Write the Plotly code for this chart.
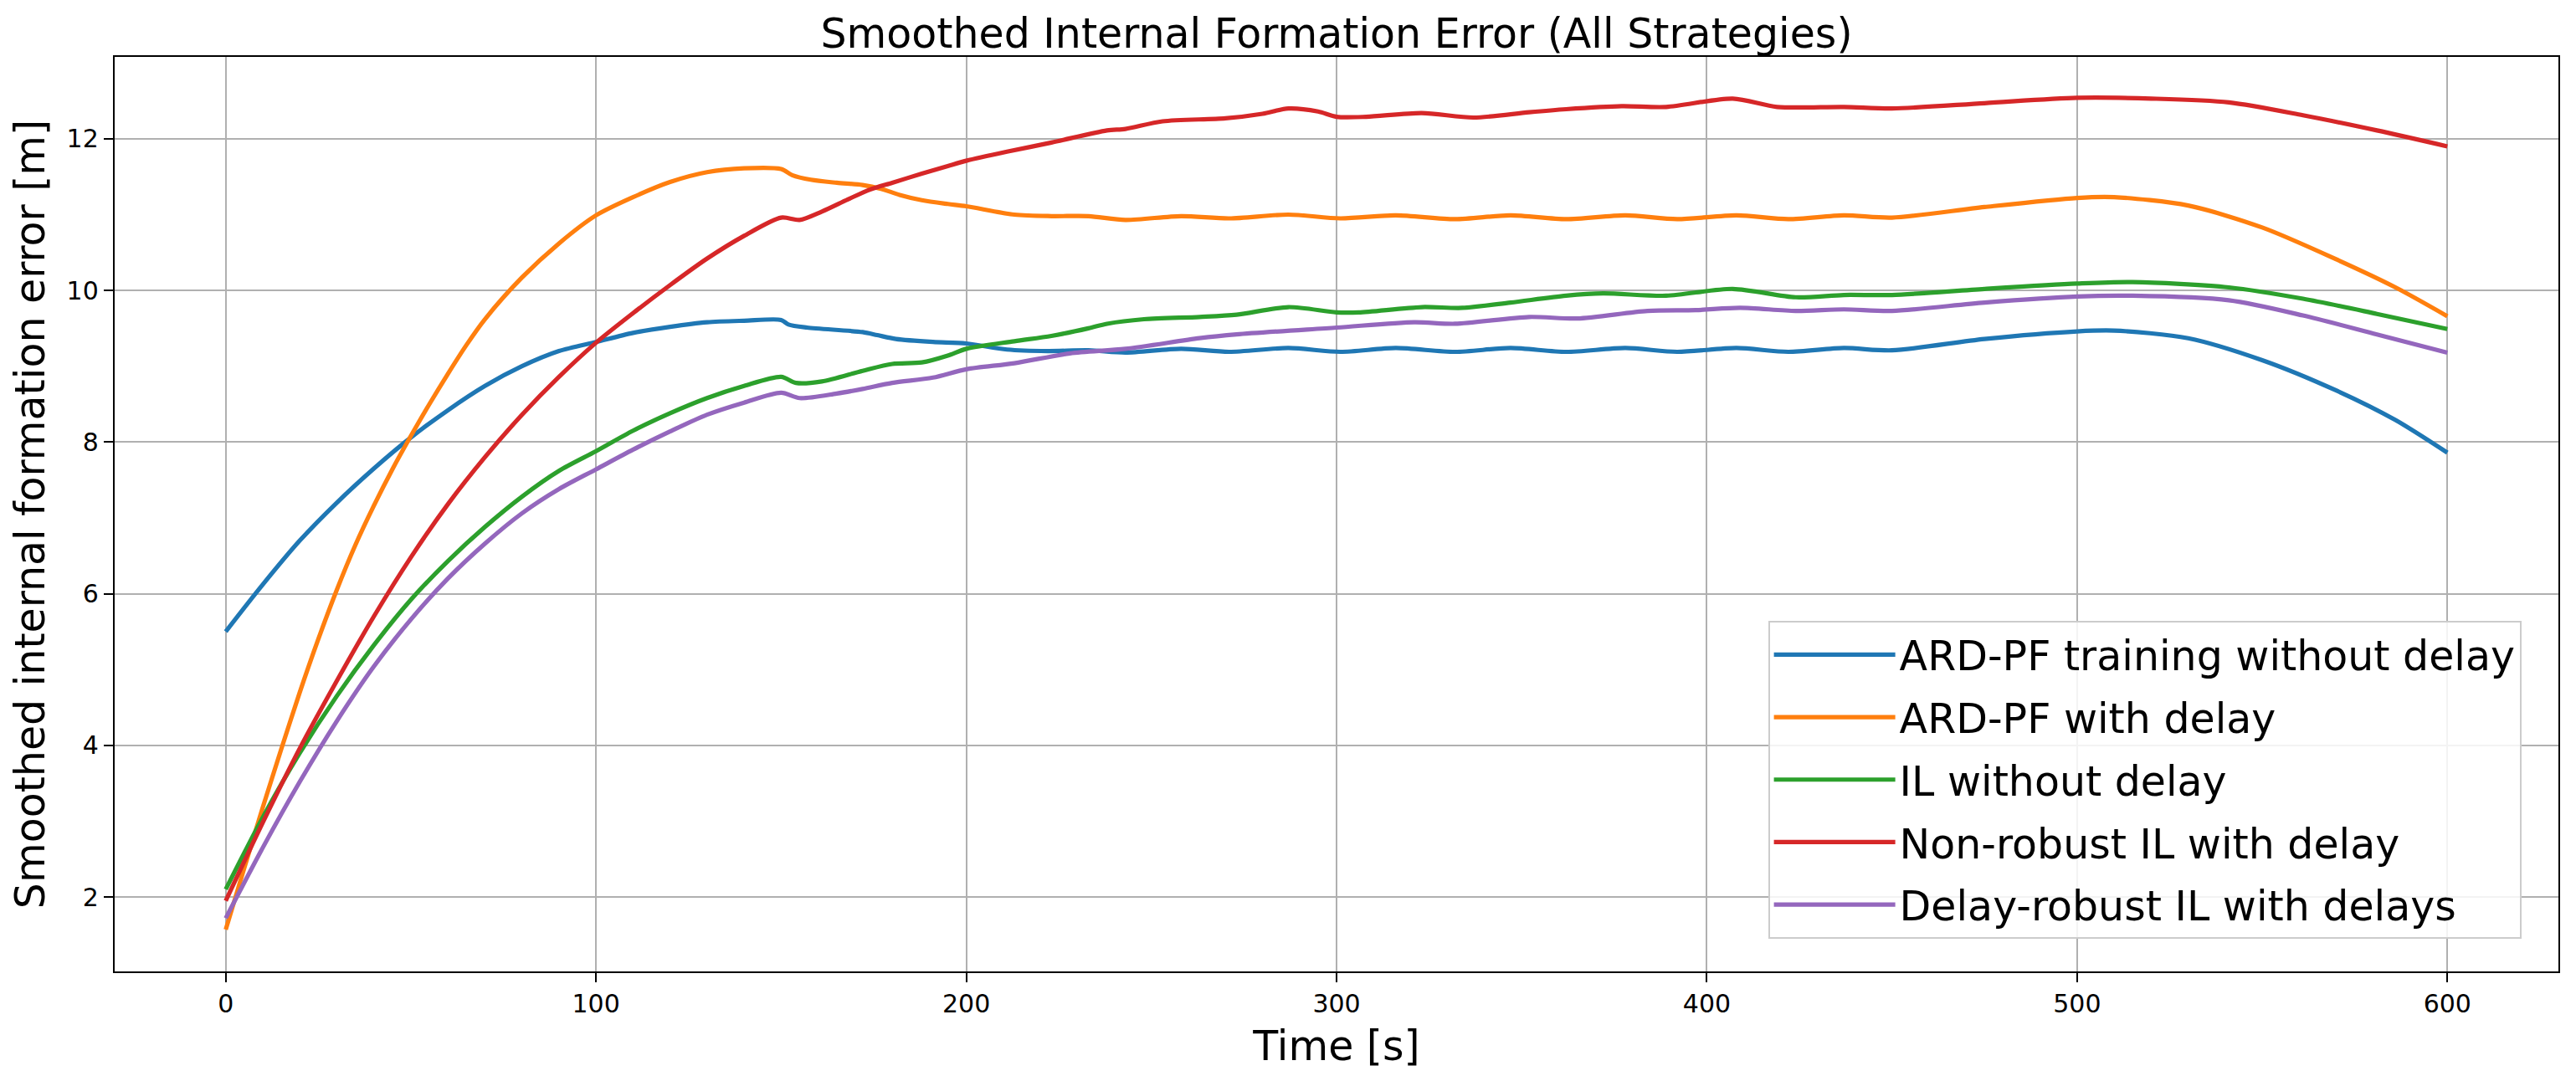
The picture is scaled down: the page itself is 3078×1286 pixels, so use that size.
import plotly.graph_objects as go

# ---- data ----
names = ["ARD-PF training without delay", "ARD-PF with delay", "IL without delay",
         "Non-robust IL with delay", "Delay-robust IL with delays"]
colors = ["#1f77b4", "#ff7f0e", "#2ca02c", "#d62728", "#9467bd"]

t_blue = [0, 10, 20, 30, 40, 50, 60, 70, 80, 90, 100, 110, 120, 130, 140, 150, 152, 157, 172, 176,
          181, 191, 200, 211, 222, 233, 243, 258, 271, 287, 301, 316, 332, 347, 362, 378, 392, 408,
          422, 437, 450, 475, 500, 510, 530, 550, 570, 586, 600]
y_blue = [5.50, 6.12, 6.70, 7.20, 7.65, 8.06, 8.42, 8.74, 9.00, 9.20, 9.32, 9.44, 9.52, 9.58, 9.60, 9.61,
          9.55, 9.51, 9.45, 9.41, 9.36, 9.32, 9.30, 9.22, 9.20, 9.21, 9.18, 9.23, 9.19, 9.24, 9.19, 9.24,
          9.19, 9.24, 9.19, 9.24, 9.19, 9.24, 9.19, 9.24, 9.21, 9.36, 9.46, 9.47, 9.37, 9.08, 8.68, 8.29,
          7.86]

t_orange = [0, 5, 10, 15, 20, 25, 30, 35, 40, 45, 50, 55, 60, 65, 70, 80, 90, 100, 110, 120, 130, 140,
            150, 153, 158, 165, 172, 177, 182, 188, 195, 200, 213, 223, 233, 243, 258, 271, 287, 301,
            316, 332, 347, 362, 378, 392, 408, 422, 437, 450, 475, 500, 510, 530, 550, 570, 586, 600]
y_orange = [1.57, 2.38, 3.18, 3.95, 4.70, 5.40, 6.05, 6.64, 7.16, 7.64, 8.08, 8.50, 8.90, 9.28, 9.62,
            10.17, 10.62, 10.99, 11.23, 11.43, 11.56, 11.61, 11.60, 11.52, 11.46, 11.42, 11.39, 11.34,
            11.26, 11.19, 11.14, 11.11, 11.00, 10.98, 10.98, 10.93, 10.98, 10.95, 11.00, 10.95, 10.99,
            10.94, 10.99, 10.94, 10.99, 10.94, 10.99, 10.94, 10.99, 10.96, 11.10, 11.22, 11.23, 11.12,
            10.83, 10.41, 10.04, 9.66]

t_green = [0, 10, 20, 30, 40, 50, 60, 70, 80, 90, 100, 110, 120, 130, 140, 150, 154, 161, 172, 180,
           188, 195, 200, 213, 223, 233, 238, 248, 263, 273, 287, 300, 306, 323, 334, 347, 362, 372,
           389, 407, 424, 437, 450, 475, 500, 515, 541, 561, 581, 600]
y_green = [2.10, 3.05, 3.90, 4.65, 5.32, 5.92, 6.43, 6.88, 7.28, 7.62, 7.88, 8.15, 8.38, 8.58, 8.74,
           8.86, 8.78, 8.80, 8.94, 9.03, 9.05, 9.14, 9.23, 9.33, 9.40, 9.50, 9.56, 9.62, 9.65, 9.68,
           9.78, 9.71, 9.71, 9.78, 9.77, 9.84, 9.93, 9.96, 9.93, 10.02, 9.91, 9.94, 9.94, 10.02, 10.09,
           10.11, 10.04, 9.89, 9.69, 9.49]

t_red = [0, 10, 20, 30, 40, 50, 60, 70, 80, 90, 100, 110, 120, 130, 140, 150, 155, 161, 168, 174,
         180, 188, 195, 200, 211, 223, 238, 243, 253, 270, 280, 287, 295, 300, 308, 323, 337, 352,
         362, 377, 389, 407, 419, 437, 450, 475, 500, 520, 541, 561, 581, 600]
y_red = [1.95, 2.98, 3.96, 4.85, 5.70, 6.48, 7.18, 7.80, 8.36, 8.86, 9.31, 9.70, 10.07, 10.42, 10.72,
         10.96, 10.93, 11.04, 11.20, 11.33, 11.42, 11.54, 11.64, 11.71, 11.83, 11.95, 12.11, 12.13,
         12.23, 12.27, 12.33, 12.40, 12.36, 12.29, 12.29, 12.34, 12.28, 12.35, 12.39, 12.43, 12.42,
         12.53, 12.42, 12.42, 12.40, 12.47, 12.54, 12.53, 12.48, 12.31, 12.11, 11.90]

t_purple = [0, 10, 20, 30, 40, 50, 60, 70, 80, 90, 100, 110, 120, 130, 140, 150, 155, 165, 172, 180,
            191, 200, 213, 228, 243, 263, 273, 300, 321, 332, 352, 365, 384, 397, 409, 424, 437, 450,
            475, 500, 515, 541, 561, 581, 600]
y_purple = [1.72, 2.65, 3.52, 4.32, 5.04, 5.66, 6.20, 6.66, 7.06, 7.38, 7.64, 7.90, 8.14, 8.36, 8.52,
            8.65, 8.58, 8.64, 8.70, 8.78, 8.85, 8.96, 9.04, 9.17, 9.23, 9.37, 9.42, 9.51, 9.58, 9.56,
            9.65, 9.63, 9.73, 9.74, 9.77, 9.73, 9.75, 9.73, 9.84, 9.92, 9.93, 9.87, 9.67, 9.42, 9.18]

x_ticks = [0, 100, 200, 300, 400, 500, 600]
y_ticks = [2, 4, 6, 8, 10, 12]

series = [(t_blue, y_blue), (t_orange, y_orange), (t_green, y_green), (t_red, y_red), (t_purple, y_purple)]

FONT = "DejaVu Sans"
W, H = 3070, 1278          # page body has an 8px margin, so the figure is shifted by 8px
L, T, R, B = 129, 60, 21, 125

fig = go.Figure()
for i, ((tx, ty), name, col) in enumerate(zip(series, names, colors)):
    fig.add_trace(go.Scatter(
        x=tx, y=ty, mode="lines", name=name, legendgroup=str(i),
        line=dict(color=col, width=5.2, shape="spline", smoothing=0.8),
    ))

axis_common = dict(
    showline=True, linecolor="black", linewidth=2.4, mirror=True,
    showgrid=True, gridcolor="#b0b0b0", gridwidth=2.2, zeroline=False,
    ticks="outside", ticklen=11, tickwidth=2.4, tickcolor="black",
    tickfont=dict(family=FONT, size=30, color="black"),
    automargin=False,
)

plot_h = H - T - B
fig.update_layout(
    width=W, height=H,
    paper_bgcolor="white", plot_bgcolor="white",
    margin=dict(l=L, r=R, t=T, b=B),
    font=dict(family=FONT, color="black"),
    title=dict(text="Smoothed Internal Formation Error (All Strategies)",
               font=dict(family=FONT, size=49, color="black"),
               x=(L + (W - L - R) / 2) / W, xanchor="center",
               y=1 - 32 / H, yanchor="middle", yref="container"),
    xaxis=dict(range=[-30, 630], tickvals=x_ticks, ticktext=[str(v) for v in x_ticks],
               title=dict(text="Time [s]", font=dict(family=FONT, size=49, color="black"), standoff=16),
               **axis_common),
    yaxis=dict(range=[1.018, 13.08], tickvals=y_ticks, ticktext=[str(v) for v in y_ticks],
               title=dict(text="Smoothed internal formation error [m]",
                          font=dict(family=FONT, size=49, color="black"), standoff=14),
               **axis_common),
    legend=dict(x=0.9848, xanchor="right", y=(H - B - 734) / plot_h, yanchor="top",
                bgcolor="rgba(255,255,255,0.85)", bordercolor="#cccccc", borderwidth=2,
                font=dict(family=FONT, size=49, color="black"),
                tracegroupgap=8, itemwidth=145),
    showlegend=True,
)

fig.write_html("out.html")
